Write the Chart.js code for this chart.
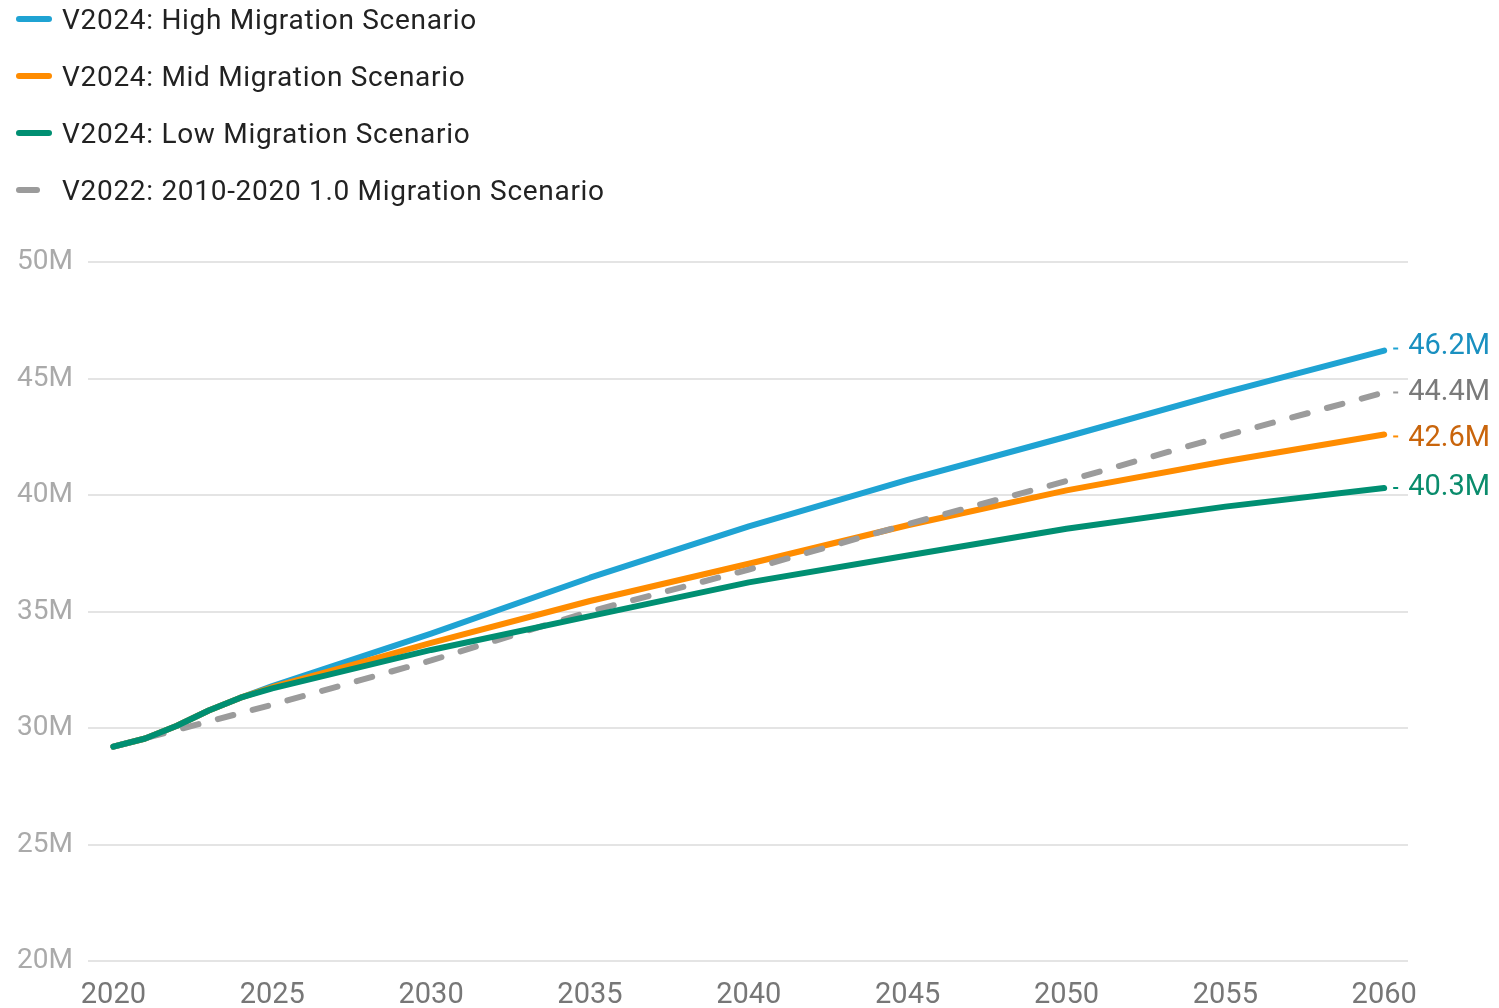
<!DOCTYPE html>
<html>
<head>
<meta charset="utf-8">
<script src="https://cdn.jsdelivr.net/npm/chart.js@4"></script>
<style>
  body { margin: 0; background: #fff; font-family: Roboto, sans-serif; }
  #wrap { position: relative; width: 1499px; height: 1008px; }
  #legend { position: absolute; left: 16px; top: 0; z-index: 2; }
  .row { display: flex; align-items: center; height: 38px; margin-bottom: 19px; font-size: 28px; letter-spacing: 0.7px; color: #222; }
  .sw { width: 36px; height: 6px; border-radius: 3px; margin-right: 10px; }
</style>
</head>
<body>
<div id="wrap">
  <div id="legend"></div>
  <canvas id="popChart"></canvas>
</div>
<script>
// years and values (millions)
const years = [2020, 2021, 2022, 2023, 2024, 2025, 2030, 2035, 2040, 2045, 2050, 2055, 2060];
const highMig = [29.2, 29.55, 30.1, 30.75, 31.3, 31.8, 34.05, 36.45, 38.65, 40.65, 42.5, 44.4, 46.2];
const midMig = [29.2, 29.55, 30.1, 30.75, 31.3, 31.75, 33.65, 35.45, 37.05, 38.7, 40.2, 41.45, 42.6];
const lowMig = [29.2, 29.55, 30.1, 30.75, 31.3, 31.7, 33.35, 34.8, 36.25, 37.4, 38.55, 39.5, 40.3];
const oldYears = [2020, 2025, 2030, 2035, 2040, 2045, 2050, 2055, 2060];
const v2022 = [29.2, 31.0, 32.9, 35.0, 36.8, 38.75, 40.6, 42.55, 44.4];
const xTicks = [2020, 2025, 2030, 2035, 2040, 2045, 2050, 2055, 2060];
const yTicks = [20, 25, 30, 35, 40, 45, 50];

const series = [
  { label: 'V2024: High Migration Scenario', x: years, y: highMig, color: '#1fa3d3', text: '#1a90c0', order: 3 },
  { label: 'V2024: Mid Migration Scenario', x: years, y: midMig, color: '#ff8c00', text: '#c9650c', order: 2 },
  { label: 'V2024: Low Migration Scenario', x: years, y: lowMig, color: '#008f72', text: '#0a8c6c', order: 0 },
  { label: 'V2022: 2010-2020 1.0 Migration Scenario', x: oldYears, y: v2022, color: '#9b9b9b', text: '#7a7a7a', order: 1, dash: true }
];

// legend
const legend = document.getElementById('legend');
series.forEach(s => {
  const row = document.createElement('div');
  row.className = 'row';
  const sw = document.createElement('span');
  sw.className = 'sw';
  sw.style.background = s.color;
  if (s.dash) { sw.style.width = '24px'; sw.style.marginRight = '22px'; }
  row.appendChild(sw);
  row.appendChild(document.createTextNode(s.label));
  legend.appendChild(row);
});

// value labels at the end of each line, pushed apart so they don't overlap
const endLabels = {
  id: 'endLabels',
  afterDatasetsDraw(chart) {
    const ctx = chart.ctx;
    const items = chart.data.datasets.map((ds, i) => {
      const pts = chart.getDatasetMeta(i).data;
      const p = pts[pts.length - 1];
      return { ds, x: p.x, y: p.y, ly: p.y, val: ds.data[ds.data.length - 1].y };
    }).sort((a, b) => a.y - b.y);
    const gap = 46;
    for (let k = 0; k < 50; k++) {
      for (let j = 1; j < items.length; j++) {
        const d = items[j].ly - items[j - 1].ly;
        if (d < gap) {
          items[j].ly += (gap - d) / 2;
          items[j - 1].ly -= (gap - d) / 2;
        }
      }
    }
    ctx.save();
    ctx.font = '29px Roboto';
    ctx.textBaseline = 'middle';
    items.forEach(it => {
      ctx.strokeStyle = it.ds.borderColor;
      ctx.lineWidth = 2;
      ctx.beginPath();
      ctx.moveTo(it.x + 9, (it.y + it.ly) / 2);
      ctx.lineTo(it.x + 14, (it.y + it.ly) / 2);
      ctx.stroke();
      ctx.fillStyle = it.ds.textColor;
      ctx.fillText(it.val.toFixed(1) + 'M', it.x + 24, it.ly);
    });
    ctx.restore();
  }
};

const ctx = document.getElementById('popChart').getContext('2d');
const popChart = new Chart(ctx, {
  type: 'line',
  data: {
    datasets: series.map(s => ({
      label: s.label,
      data: s.x.map((yr, i) => ({ x: yr, y: s.y[i] })),
      borderColor: s.color,
      textColor: s.text,
      borderWidth: 6,
      borderDash: s.dash ? [16, 20] : [],
      borderCapStyle: 'round',
      borderJoinStyle: 'round',
      pointRadius: 0,
      tension: 0,
      order: s.order
    }))
  },
  options: {
    responsive: true,
    maintainAspectRatio: false,
    animation: false,
    layout: { padding: { top: 262, right: 91, bottom: 0, left: 0 } },
    plugins: { legend: { display: false }, tooltip: { enabled: false } },
    scales: {
      x: {
        type: 'linear',
        min: 2019.2,
        max: 2060.75,
        afterBuildTicks: scale => { scale.ticks = xTicks.map(v => ({ value: v })); },
        afterFit: scale => { scale.height = 47; },
        grid: { display: false },
        border: { display: false },
        ticks: { color: '#777', font: { family: 'Roboto', size: 29 }, padding: 9, maxRotation: 0, callback: v => String(v) }
      },
      y: {
        min: 20,
        max: 50,
        afterBuildTicks: scale => { scale.ticks = yTicks.map(v => ({ value: v })); },
        afterFit: scale => { scale.width = 88; },
        grid: { color: '#e4e4e4', lineWidth: 2, drawTicks: false },
        border: { display: false },
        ticks: { color: '#aaa', font: { family: 'Roboto', size: 28 }, padding: 15, callback: v => v + 'M' }
      }
    }
  },
  plugins: [endLabels]
});
</script>
</body>
</html>
